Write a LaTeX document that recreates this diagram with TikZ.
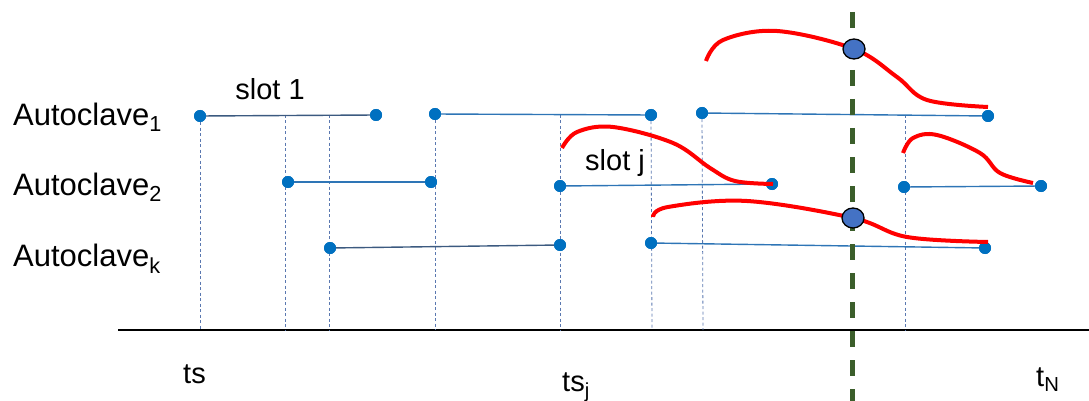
\documentclass[tikz,border=0pt]{standalone}
\usepackage{fontspec}
\setmainfont{Liberation Sans}
\definecolor{dotblue}{HTML}{0070C0}
\definecolor{segblue}{HTML}{2E75B6}
\definecolor{segdark}{HTML}{3C5A80}
\definecolor{guide}{HTML}{5A78B0}
\definecolor{nowgreen}{HTML}{3B5E2B}
\definecolor{hitblue}{HTML}{4472C4}
\definecolor{curvered}{HTML}{FF0000}
\usetikzlibrary{shapes.geometric}
\tikzset{
  dotn/.style={circle, fill=dotblue, inner sep=0pt, minimum size=12pt},
  seg/.style={draw=segblue, line width=1.4pt},
  segd/.style={draw=segdark, line width=1.4pt},
  vguide/.style={draw=guide, line width=0.8pt, dash pattern=on 3pt off 2.5pt},
  redc/.style={draw=curvered, line width=4pt},
  hitpt/.style={ellipse, draw=black, line width=1.3pt, fill=hitblue, inner sep=0pt, minimum width=22pt, minimum height=20pt},
  lbl/.style={font=\fontsize{31}{36}\selectfont, inner sep=0pt},
  slbl/.style={font=\fontsize{29}{34}\selectfont, inner sep=0pt},
}
\begin{document}
\begin{tikzpicture}[x=1pt,y=-1pt]
\useasboundingbox (0,0) rectangle (1089,401);
% axis
\coordinate (axL) at (118,330);
\coordinate (axR) at (1089,330);
\draw[line width=1.8pt] (axL) -- (axR);
% guide coordinates on axis
\foreach \n/\x in {g1/200,g2/285,g3/329,g4/435,g5/560,g6/652,g7/703,g8/905}{
  \coordinate (\n) at (\x,330);
}
% top points of guides on row 1
\coordinate (t2) at (285,115);
\coordinate (t3) at (329,115);
\coordinate (t5) at (560,115);
\coordinate (t8) at (905,115);
% row 1 dots
\node[dotn] (a1s1) at (200,116) {};
\node[dotn] (a1e1) at (376,115) {};
\node[dotn] (a1s2) at (435,114) {};
\node[dotn] (a1e2) at (651,115) {};
\node[dotn] (a1s3) at (702,113) {};
\node[dotn] (a1e3) at (988,116) {};
% row 2 dots
\node[dotn] (a2s1) at (288,182) {};
\node[dotn] (a2e1) at (431,182) {};
\node[dotn] (a2s2) at (560,186) {};
\node[dotn] (a2e2) at (772,184) {};
\node[dotn] (a2s3) at (904,187) {};
\node[dotn] (a2e3) at (1041,186) {};
% row k dots
\node[dotn] (aks1) at (330,248) {};
\node[dotn] (ake1) at (560,245) {};
\node[dotn] (aks2) at (651,243) {};
\node[dotn] (ake2) at (985,248) {};
% guides
\draw[vguide] (a1s1) -- (g1);
\draw[vguide] (t2) -- (g2);
\draw[vguide] (t3) -- (g3);
\draw[vguide] (a1s2) -- (g4);
\draw[vguide] (t5) -- (g5);
\draw[vguide] (a1e2) -- (g6);
\draw[vguide] (a1s3) -- (g7);
\draw[vguide] (t8) -- (g8);
% segments
\draw[segd] (a1s1.center) -- (a1e1.center);
\draw[seg] (a1s2.center) -- (a1e2.center);
\draw[seg] (a1s3.center) -- (a1e3.center);
\draw[seg] (a2s1.center) -- (a2e1.center);
\draw[seg] (a2s2.center) -- (a2e2.center);
\draw[seg] (a2s3.center) -- (a2e3.center);
\draw[segd] (aks1.center) -- (ake1.center);
\draw[seg] (aks2.center) -- (ake2.center);
% redraw dots on top
\foreach \d in {a1s1,a1e1,a1s2,a1e2,a1s3,a1e3,a2s1,a2e1,a2s2,a2e2,a2s3,a2e3,aks1,ake1,aks2,ake2}{
  \fill[dotblue] (\d) circle (6pt);
}
% current time line
\coordinate (nowT) at (852,12);
\coordinate (nowB) at (852,401);
\draw[nowgreen, line width=5pt, dash pattern=on 16pt off 13pt] (nowT) -- (nowB);
% red curves
\draw[redc] plot[smooth, tension=0.6] coordinates {(706,61) (723,40) (777,31) (854,49) (897,77) (927,100) (988,107)};
\draw[redc] plot[smooth, tension=0.6] coordinates {(562,148) (577,132) (613,127) (673,143) (710,168) (735,181) (773,184)};
\draw[redc] plot[smooth, tension=0.6] coordinates {(903,153) (913,138) (937,135) (980,153) (1000,173) (1033,183)};
\draw[redc] plot[smooth, tension=0.6] coordinates {(653,217) (668,207) (747,201) (853,218) (907,237) (988,242)};
% hit points
\node[hitpt] (h1) at (854,49) {};
\node[hitpt] (h2) at (853,218) {};
% labels
\node[lbl, anchor=base west] (l1) at (13,125) {Autoclave\textsubscript{1}};
\node[lbl, anchor=base west] (l2) at (13,195) {Autoclave\textsubscript{2}};
\node[lbl, anchor=base west] (lk) at (13,266) {Autoclave\textsubscript{k}};
\node[slbl, anchor=base] (s1) at (270,100) {slot 1};
\node[slbl, anchor=base] (sj) at (615,170) {slot j};
\node[slbl, anchor=base west] (ts) at (183,383) {ts};
\node[slbl, anchor=base west] (tsj) at (562,391) {ts\textsubscript{j}};
\node[slbl, anchor=base west] (tn) at (1036,386) {t\textsubscript{N}};
\end{tikzpicture}
\end{document}
